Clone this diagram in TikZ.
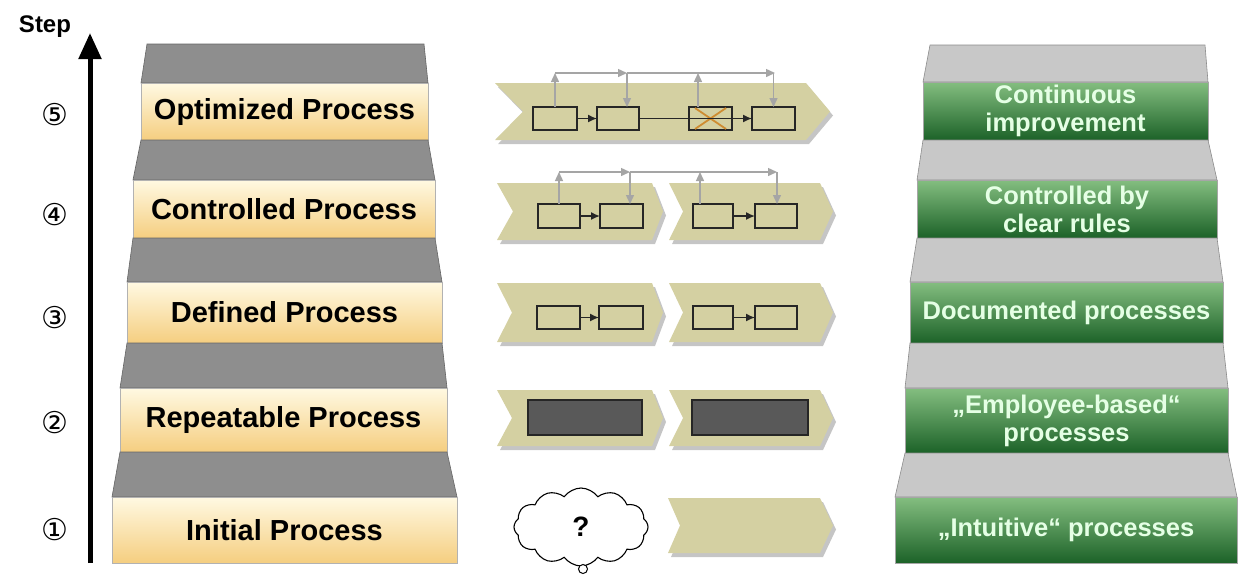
\documentclass[tikz,border=0pt]{standalone}
\usepackage{fontspec}
\setmainfont{Liberation Sans}
\newfontfamily\circfont{DejaVu Sans}
\usetikzlibrary{arrows.meta,shapes.symbols,calc}
\definecolor{khaki}{RGB}{212,208,162}
\definecolor{treaddark}{RGB}{142,142,142}
\definecolor{treadlight}{RGB}{200,200,200}
\definecolor{yeltop}{RGB}{255,249,226}
\definecolor{yelbot}{RGB}{245,206,128}
\definecolor{grtop}{RGB}{132,190,128}
\definecolor{grbot}{RGB}{28,98,40}
\definecolor{fbgray}{RGB}{165,165,165}
\definecolor{crossor}{RGB}{206,140,50}
\newcommand\mychev[7]{% xl, xr, yt, ym, yb, notch, tip
  \fill[gray!75,opacity=.6] ({#1+3},{#3+4}) -- ({#2+3},{#3+4}) -- ({#2+#7+3},{#4+4}) -- ({#2+3},{#5+4}) -- ({#1+3},{#5+4}) -- ({#1+#6+3},{#4+4}) -- cycle;
  \fill[khaki] (#1,#3) -- (#2,#3) -- ({#2+#7},#4) -- (#2,#5) -- (#1,#5) -- ({#1+#6},#4) -- cycle;
}
\begin{document}
\begin{tikzpicture}[x=1pt,y=-1pt,
  ybox/.style={top color=yeltop,bottom color=yelbot,draw=gray!60,line width=0.6,inner sep=0,outer sep=0,
     font=\fontsize{29}{31}\selectfont\bfseries,text=black},
  gbox/.style={top color=grtop,bottom color=grbot,draw=gray!70,line width=0.6,inner sep=0,outer sep=0,
     font=\fontsize{25.5}{28}\selectfont\bfseries,text=white!90!green,align=center},
  ltread/.style={fill=treaddark,draw=gray!80!black,line width=0.6},
  rtread/.style={fill=treadlight,draw=gray!90,line width=0.6},
  pbox/.style={draw=black!85,fill=khaki,line width=1.2,inner sep=0,outer sep=0},
  dbox/.style={draw=black!85,fill=black!65,line width=1.2,inner sep=0,outer sep=0},
  parr/.style={draw=black!85,line width=1.5,-{Latex[length=9,width=8]}},
  fb/.style={draw=fbgray,line width=1.4},
  fbarr/.style={draw=fbgray,line width=1.4,-{Triangle[length=9,width=8]}},
  circnum/.style={font=\circfont\fontsize{30}{30}\selectfont,inner sep=0}
]
\useasboundingbox (0,0) rectangle (1238,574);

% ---------- axis ----------
\coordinate (ax0) at (90,563);
\coordinate (ax1) at (90,33);
\draw[line width=5,-{Triangle[width=22,length=26]}] (ax0) -- (ax1);
\node[font=\fontsize{24}{24}\selectfont\bfseries,inner sep=0] (steplbl) at (45,27) {Step};
\node[circnum] (n5) at (55,115) {⑤};
\node[circnum] (n4) at (55,215) {④};
\node[circnum] (n3) at (55,318) {③};
\node[circnum] (n2) at (55,423) {②};
\node[circnum] (n1) at (55,530) {①};

% ---------- left staircase ----------
\filldraw[ltread] (147,44) -- (424,44) -- (428,83) -- (141,83) -- cycle;
\node[ybox,minimum width=287,minimum height=57] (y5) at (284.5,111.5) {Optimized Process};
\filldraw[ltread] (141,140) -- (428,140) -- (435,180) -- (133,180) -- cycle;
\node[ybox,minimum width=302,minimum height=58] (y4) at (284,209) {Controlled Process};
\filldraw[ltread] (133,238) -- (435,238) -- (442,282) -- (127,282) -- cycle;
\node[ybox,minimum width=315,minimum height=61] (y3) at (284.5,312.5) {Defined Process};
\filldraw[ltread] (127,343) -- (442,343) -- (447,388) -- (120,388) -- cycle;
\node[ybox,minimum width=327,minimum height=64] (y2) at (283.5,420) {Repeatable Process};
\filldraw[ltread] (120,452) -- (447,452) -- (457,497) -- (112,497) -- cycle;
\node[ybox,minimum width=345,minimum height=66] (y1) at (284.5,530) {Initial Process};

% ---------- right staircase ----------
\filldraw[rtread] (930,45) -- (1205,45) -- (1208,82) -- (923,82) -- cycle;
\node[gbox,minimum width=285,minimum height=58] (g5) at (1065.5,111) {Continuous\\improvement};
\filldraw[rtread] (923,140) -- (1208,140) -- (1217,180) -- (917,180) -- cycle;
\node[gbox,minimum width=300,minimum height=58] (g4) at (1067,209) {Controlled by\\clear rules};
\filldraw[rtread] (917,238) -- (1217,238) -- (1223,282) -- (910,282) -- cycle;
\node[gbox,minimum width=313,minimum height=61] (g3) at (1066.5,312.5) {Documented processes};
\filldraw[rtread] (910,343) -- (1223,343) -- (1228,388) -- (905,388) -- cycle;
\node[gbox,minimum width=323,minimum height=65] (g2) at (1066.5,420.5) {„Employee-based“\\processes};
\filldraw[rtread] (905,453) -- (1228,453) -- (1237,497) -- (895,497) -- cycle;
\node[gbox,minimum width=342,minimum height=66] (g1) at (1066,530) {„Intuitive“ processes};

% ---------- middle: row 5 ----------
\mychev{495}{806}{83}{111.5}{140}{28}{24}
\node[pbox,minimum width=44,minimum height=23] (r5a) at (555,118.5) {};
\node[pbox,minimum width=42,minimum height=23] (r5b) at (618,118.5) {};
\node[pbox,minimum width=43,minimum height=23] (r5c) at (710.5,118.5) {};
\node[pbox,minimum width=43,minimum height=23] (r5d) at (773.5,118.5) {};
\draw[crossor,line width=1.8] ($(r5c.north west)+(6,1)$) -- ($(r5c.south east)+(-6,-1)$)
      ($(r5c.south west)+(6,-1)$) -- ($(r5c.north east)+(-6,1)$);
\draw[parr] (r5a.east) -- (r5b.west);
\draw[parr] (r5b.east) -- (r5d.west);
\coordinate (t5a) at (555,73);
\coordinate (t5b) at (627,73);
\coordinate (t5c) at (698,73);
\coordinate (t5d) at (775,73);
\draw[fbarr] (r5a.north) -- (t5a);
\draw[fbarr] (t5a) -- (t5b);
\draw[fb] (t5b) -- (t5c);
\draw[fbarr] (t5c) -- (t5d);
\draw[fbarr] (t5b) -- (t5b |- r5b.north);
\draw[fbarr] (t5c |- r5c.north) -- (t5c);
\draw[fbarr] (t5d -| r5d.north) -- (r5d.north);

% ---------- middle: row 4 ----------
\mychev{497}{652}{183}{211.5}{240}{16}{11}
\mychev{669}{820}{183}{211.5}{240}{14}{13}
\node[pbox,minimum width=42,minimum height=24] (r4a) at (559,216) {};
\node[pbox,minimum width=43,minimum height=24] (r4b) at (621.5,216) {};
\node[pbox,minimum width=40,minimum height=24] (r4c) at (713,216) {};
\node[pbox,minimum width=42,minimum height=24] (r4d) at (776,216) {};
\draw[parr] (r4a.east) -- (r4b.west);
\draw[parr] (r4c.east) -- (r4d.west);
\coordinate (t4a) at (559,172);
\coordinate (t4b) at (630,172);
\coordinate (t4c) at (700,172);
\coordinate (t4d) at (777,172);
\draw[fbarr] (r4a.north) -- (t4a);
\draw[fbarr] (t4a) -- (t4b);
\draw[fb] (t4b) -- (t4c);
\draw[fbarr] (t4c) -- (t4d);
\draw[fbarr] (t4b) -- (t4b |- r4b.north);
\draw[fbarr] (t4c |- r4c.north) -- (t4c);
\draw[fbarr] (t4d) -- (t4d |- r4d.north);

% ---------- middle: row 3 ----------
\mychev{497}{652}{283}{312.5}{342}{15}{11}
\mychev{669}{820}{283}{312.5}{342}{14}{13}
\node[pbox,minimum width=43,minimum height=23] (r3a) at (558.5,317.5) {};
\node[pbox,minimum width=44,minimum height=23] (r3b) at (621,317.5) {};
\node[pbox,minimum width=40,minimum height=23] (r3c) at (713,317.5) {};
\node[pbox,minimum width=42,minimum height=23] (r3d) at (776,317.5) {};
\draw[parr] (r3a.east) -- (r3b.west);
\draw[parr] (r3c.east) -- (r3d.west);

% ---------- middle: row 2 ----------
\mychev{497}{652}{390}{418}{446}{15}{11}
\mychev{669}{820}{390}{418}{446}{14}{13}
\node[dbox,minimum width=114,minimum height=35] (r2a) at (585,417.5) {};
\node[dbox,minimum width=116,minimum height=35] (r2b) at (750,417.5) {};

% ---------- middle: row 1 ----------
\mychev{668}{820}{498}{525.5}{553}{12}{13}
\node[cloud,draw=black,fill=white,line width=1.1,cloud puffs=12,cloud puff arc=110,aspect=1.7,
      minimum width=134,minimum height=78,inner sep=0,
      font=\fontsize{28}{28}\selectfont\bfseries] (cl) at (581,527) {?};
\node[circle,draw=black,fill=white,line width=1,minimum size=9,inner sep=0] (cltail) at (583,569) {};
\end{tikzpicture}
\end{document}
